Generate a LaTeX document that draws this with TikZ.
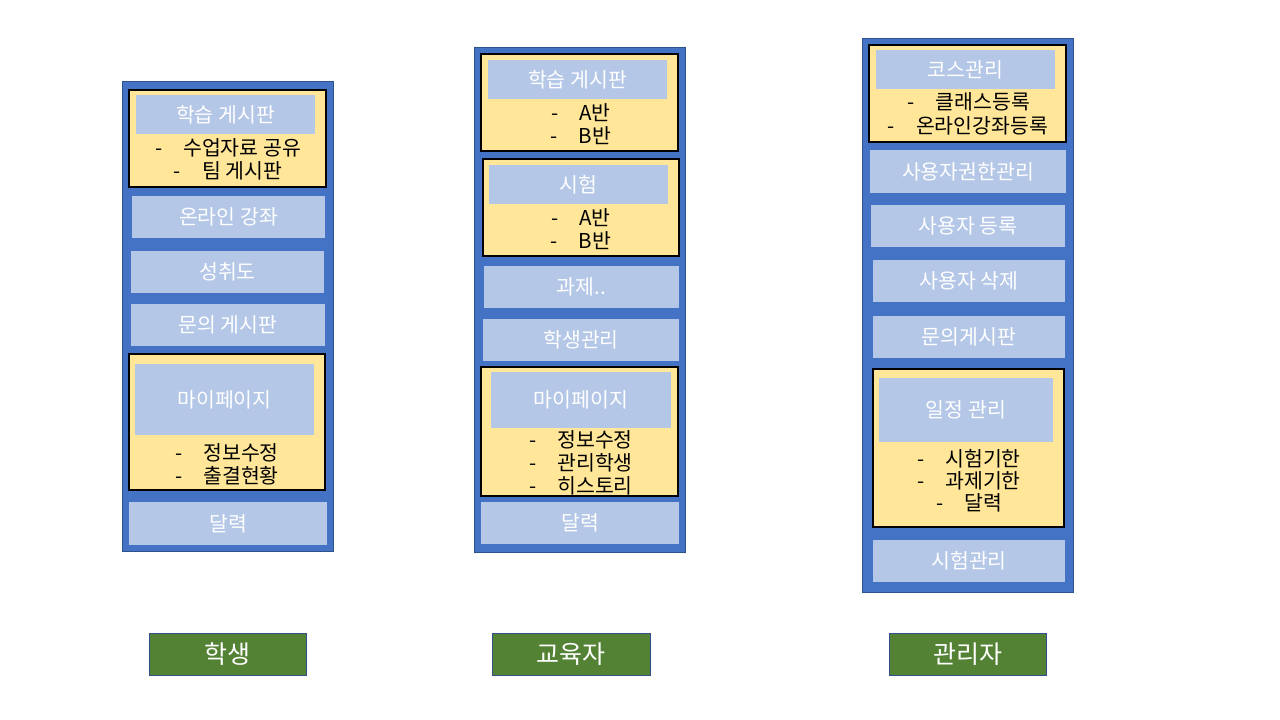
\documentclass[tikz,border=0pt]{standalone}
\usepackage{fontspec}
\setmainfont{Noto Sans CJK KR}
\definecolor{midblue}{HTML}{4472C4}
\definecolor{bordblue}{HTML}{2F528F}
\definecolor{lightblue}{HTML}{B4C7E7}
\definecolor{paleyellow}{HTML}{FFE699}
\definecolor{darkgreen}{HTML}{548235}
\tikzset{
  sz/.style 2 args={minimum width=#1pt, minimum height=#2pt},
  base/.style={inner sep=0pt, outer sep=0pt, anchor=center},
  outerbox/.style={base, draw=bordblue, fill=midblue, line width=1pt},
  ybox/.style={base, draw=black, fill=paleyellow, line width=1.2pt},
  lbox/.style={base, fill=lightblue, text=white, font=\fontsize{20.5}{23}\selectfont},
  bullet/.style={base, text=black, font=\fontsize{20.5}{23}\selectfont},
  role/.style={base, draw=bordblue, fill=darkgreen, line width=0.8pt, text=white, font=\fontsize{25}{28}\selectfont},
}
\newcommand{\bl}[1]{-\hspace{21pt}#1}
\begin{document}
\begin{tikzpicture}[x=1pt,y=-1pt]
\useasboundingbox[fill=white] (0,0) rectangle (1280,720);

% ---------- Column 1: 학생 ----------
\node[outerbox, sz={211}{470}] (o1) at (227.5,316) {};
\node[ybox, sz={197}{97}] (y11) at (227.5,138.5) {};
\node[lbox, sz={179}{39}] (l11) at (225.5,114.5) {학습 게시판};
\node[bullet] (b111) at (228,148) {\bl{수업자료 공유}};
\node[bullet] (b112) at (228,171) {\bl{팀 게시판}};
\node[lbox, sz={193}{42}] (l12) at (228.5,217) {온라인 강좌};
\node[lbox, sz={193}{42}] (l13) at (227.5,272) {성취도};
\node[lbox, sz={194}{42}] (l14) at (228,325) {문의 게시판};
\node[ybox, sz={196}{136}] (y12) at (227,422) {};
\node[lbox, sz={179}{71}] (l15) at (224.5,399.5) {마이페이지};
\node[bullet] (b121) at (227,453) {\bl{정보수정}};
\node[bullet] (b122) at (227,476) {\bl{출결현황}};
\node[lbox, sz={198}{43}] (l16) at (228,523.5) {달력};

% ---------- Column 2: 교육자 ----------
\node[outerbox, sz={211}{505}] (o2) at (579.5,299.5) {};
\node[ybox, sz={197}{97}] (y21) at (579.5,102.5) {};
\node[lbox, sz={179}{39}] (l21) at (577.5,79.5) {학습 게시판};
\node[bullet] (b211) at (581,113) {\bl{A반}};
\node[bullet] (b212) at (581,136) {\bl{B반}};
\node[ybox, sz={196}{97}] (y22) at (581,207.5) {};
\node[lbox, sz={179}{39}] (l22) at (578.5,184.5) {시험};
\node[bullet] (b221) at (581,218) {\bl{A반}};
\node[bullet] (b222) at (581,241) {\bl{B반}};
\node[lbox, sz={195}{42}] (l23) at (581.5,287) {과제..};
\node[lbox, sz={196}{42}] (l24) at (581,340) {학생관리};
\node[ybox, sz={197}{129}] (y23) at (579.5,431.5) {};
\node[lbox, sz={180}{56}] (l25) at (581,400) {마이페이지};
\node[bullet] (b231) at (581,440) {\bl{정보수정}};
\node[bullet] (b232) at (581,463) {\bl{관리학생}};
\begin{scope}
  \clip (481,367) rectangle (678,495.4);
  \node[bullet] (b233) at (581,486) {\bl{히스토리}};
\end{scope}
\draw[black, line width=1.2pt] (481,496) -- (678,496);
\node[lbox, sz={198}{42}] (l26) at (580,523) {달력};

% ---------- Column 3: 관리자 ----------
\node[outerbox, sz={211}{554}] (o3) at (967.5,315) {};
\node[ybox, sz={197}{97}] (y31) at (967.5,93.5) {};
\node[lbox, sz={179}{39}] (l31) at (965.5,69.5) {코스관리};
\node[bullet] (b311) at (969,102) {\bl{클래스등록}};
\node[bullet] (b312) at (968,126) {\bl{온라인강좌등록}};
\node[lbox, sz={196}{43}] (l32) at (968,171.5) {사용자권한관리};
\node[lbox, sz={194}{42}] (l33) at (968,226) {사용자 등록};
\node[lbox, sz={192}{42}] (l34) at (969,281) {사용자 삭제};
\node[lbox, sz={192}{42}] (l35) at (969,337) {문의게시판};
\node[ybox, sz={191}{158}] (y32) at (968.5,448) {};
\node[lbox, sz={174}{64}] (l36) at (966,410) {일정 관리};
\node[bullet] (b321) at (969,459) {\bl{시험기한}};
\node[bullet] (b322) at (969,481) {\bl{과제기한}};
\node[bullet] (b323) at (969,503) {\bl{달력}};
\node[lbox, sz={192}{42}] (l37) at (969,561) {시험관리};

% ---------- Role labels ----------
\node[role, sz={157}{42}] (r1) at (227.5,654) {학생};
\node[role, sz={158}{42}] (r2) at (571,654) {교육자};
\node[role, sz={157}{42}] (r3) at (967.5,654) {관리자};
\end{tikzpicture}
\end{document}
